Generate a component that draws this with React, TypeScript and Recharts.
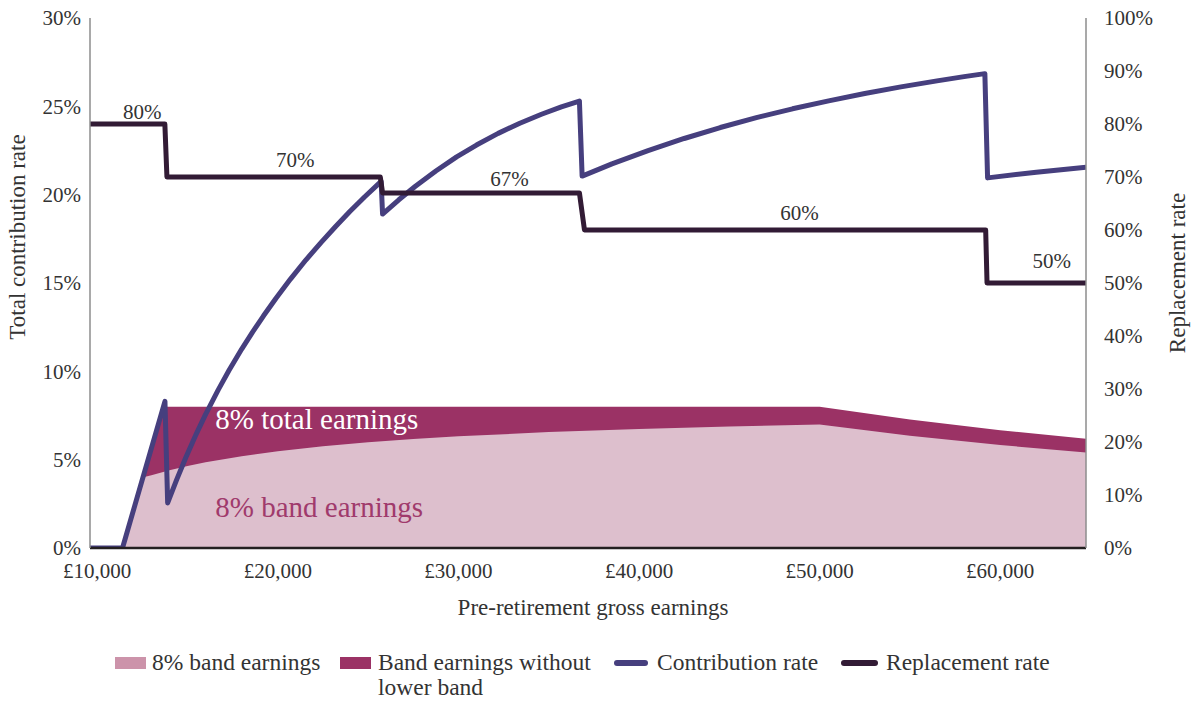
import React from 'react';
import { ComposedChart, Line, Area, XAxis, YAxis, Legend, ReferenceDot } from 'recharts';

// ---- Data ----
// Contribution rate (left axis, %)
const contribEarnings = [
  9600, 11400, 13750, 13900, 14400, 14900, 15500, 16000, 16700, 17300, 18000, 18600, 19200, 19900, 20700, 21550, 22400, 23200, 24000, 24800, 25500, 25720,
  25800, 26700, 27600, 28750, 29900, 31000, 32200, 33400, 34600, 35700, 36700,
  36850, 38500, 40500, 42500, 44500, 46500, 48500, 50500, 52500, 54500, 56500, 58000, 59150,
  59300, 62000, 64750,
];
const contribRate = [
  0, 0, 8.3, 2.55, 3.87, 5.11, 6.49, 7.56, 8.95, 10.06, 11.26, 12.22, 13.13, 14.14, 15.22, 16.3, 17.3, 18.2, 19.06, 19.87, 20.54, 20.75,
  18.9, 19.71, 20.46, 21.34, 22.14, 22.81, 23.47, 24.04, 24.55, 24.97, 25.3,
  21.05, 21.74, 22.49, 23.18, 23.8, 24.36, 24.86, 25.31, 25.73, 26.1, 26.44, 26.68, 26.85,
  20.95, 21.27, 21.55,
];

// Replacement rate (right axis, %)
const replEarnings = [9600, 13745, 13860, 25675, 25800, 36700, 36980, 59195, 59270, 64750];
const replRate = [80, 80, 70, 70, 67, 67, 60, 60, 50, 50];

// 8% band earnings (left axis, %)
const bandEarnings = [11400, 12550, 13000, 14000, 15000, 16000, 18000, 20000, 22500, 25000, 27500, 30000, 35000, 40000, 45000, 50000, 55000, 60000, 64750];
const bandRate = [0, 4.0, 4.12, 4.4, 4.64, 4.85, 5.2, 5.48, 5.76, 5.98, 6.17, 6.32, 6.56, 6.74, 6.88, 6.99, 6.35, 5.83, 5.4];

// 8% total earnings (band earnings without lower band) top edge (left axis, %)
const totalEarnings = [11400, 12550, 13750, 50000, 55000, 60000, 64750];
const totalRate = [0, 4.0, 8.0, 8.0, 7.27, 6.67, 6.18];

// Replacement-rate data labels
const replLabelEarnings = [12500, 20970, 32825, 48890, 62850];
const replLabelValues = [80, 70, 67, 60, 50];

// In-area annotations
const areaLabelTexts = ['8% total earnings', '8% band earnings'];
const areaLabelEarnings = [16540, 16540];
const areaLabelRates = [6.74, 1.77];

// Ticks
const xTicks = [10000, 20000, 30000, 40000, 50000, 60000];
const leftTicks = [0, 5, 10, 15, 20, 25, 30];
const rightTicks = [0, 10, 20, 30, 40, 50, 60, 70, 80, 90, 100];

const legendNames = ['8% band earnings', 'Band earnings without', 'lower band', 'Contribution rate', 'Replacement rate'];

// ---- Styling ----
const FONT = '"Liberation Serif", "Times New Roman", serif';
const TEXT = '#333333';
const C_BAND = '#ddbfcd';
const C_BAND_LEG = '#cc93aa';
const C_TOTAL = '#9b3265';
const C_CONTRIB = '#463f7e';
const C_REPL = '#321b35';

function buildTable() {
  const map = new Map<number, any>();
  const add = (xs: number[], ys: number[], key: string) => {
    xs.forEach((x, i) => {
      const row = map.get(x) ?? { x };
      row[key] = ys[i];
      map.set(x, row);
    });
  };
  add(totalEarnings, totalRate, 'total');
  add(bandEarnings, bandRate, 'band');
  add(contribEarnings, contribRate, 'contrib');
  add(replEarnings, replRate, 'repl');
  return Array.from(map.values()).sort((a, b) => a.x - b.x);
}
const table = buildTable();

const fmtMoney = (v: number) => '£' + v.toLocaleString('en-US');
const fmtPct = (v: number) => `${v}%`;

const labelOffsets = [5, 10, 7, 10, 15];

const legendText: React.CSSProperties = { position: 'absolute', top: 12, lineHeight: '25px', whiteSpace: 'nowrap' };

const renderLegend = () => (
  <div style={{ position: 'relative', width: 1191, height: 64, fontFamily: FONT, fontSize: 23.5, color: TEXT }}>
    <div style={{ position: 'absolute', left: 115, top: 19, width: 31, height: 12, background: C_BAND_LEG }} />
    <div style={{ ...legendText, left: 152 }}>{legendNames[0]}</div>
    <div style={{ position: 'absolute', left: 340, top: 19, width: 31, height: 12, background: C_TOTAL }} />
    <div style={{ ...legendText, left: 378 }}>
      {legendNames[1]}
      <br />
      {legendNames[2]}
    </div>
    <div style={{ position: 'absolute', left: 614, top: 22, width: 34, height: 6, borderRadius: 3, background: C_CONTRIB }} />
    <div style={{ ...legendText, left: 657 }}>{legendNames[3]}</div>
    <div style={{ position: 'absolute', left: 841, top: 22, width: 37, height: 6, borderRadius: 3, background: C_REPL }} />
    <div style={{ ...legendText, left: 886 }}>{legendNames[4]}</div>
  </div>
);

export default function App() {
  return (
    <div style={{ position: 'absolute', left: 0, top: 0, width: 1191, height: 702, background: '#ffffff' }}>
      <ComposedChart width={1191} height={702} data={table} margin={{ top: 18, right: 0, bottom: 0, left: 0 }}>
        <XAxis
          dataKey="x"
          type="number"
          domain={[9600, 64750]}
          allowDataOverflow
          ticks={xTicks}
          tickFormatter={fmtMoney}
          height={90}
          axisLine={{ stroke: '#231f20', strokeWidth: 2.5 }}
          tickLine={false}
          tickSize={0}
          tickMargin={15}
          tick={{ fill: TEXT, fontSize: 21, fontFamily: FONT }}
          label={() => (
            <text x={593} y={607} textAnchor="middle" dominantBaseline="central" fill={TEXT} fontSize={23} fontFamily={FONT}>
              Pre-retirement gross earnings
            </text>
          )}
        />
        <YAxis
          yAxisId="left"
          width={90}
          domain={[0, 30]}
          allowDataOverflow
          ticks={leftTicks}
          tickFormatter={fmtPct}
          axisLine={{ stroke: '#8c8c8c', strokeWidth: 1.5 }}
          tickLine={false}
          tickSize={0}
          tickMargin={9}
          tick={{ fill: TEXT, fontSize: 21, fontFamily: FONT }}
          label={() => (
            <text x={17} y={237} transform="rotate(-90 17 237)" textAnchor="middle" dominantBaseline="central" fill={TEXT} fontSize={23} fontFamily={FONT}>
              Total contribution rate
            </text>
          )}
        />
        <YAxis
          yAxisId="right"
          orientation="right"
          width={105}
          domain={[0, 100]}
          allowDataOverflow
          ticks={rightTicks}
          tickFormatter={fmtPct}
          axisLine={{ stroke: '#8c8c8c', strokeWidth: 1.5 }}
          tickLine={false}
          tickSize={0}
          tickMargin={18}
          tick={{ fill: TEXT, fontSize: 21, fontFamily: FONT, textAnchor: 'start' }}
          label={() => (
            <text x={1177} y={273} transform="rotate(-90 1177 273)" textAnchor="middle" dominantBaseline="central" fill={TEXT} fontSize={23} fontFamily={FONT}>
              Replacement rate
            </text>
          )}
        />
        <Legend verticalAlign="bottom" align="left" height={64} wrapperStyle={{ left: 0, width: 1191 }} content={renderLegend} />
        <Area yAxisId="left" type="linear" dataKey="total" name="Band earnings without lower band" stroke="none" fill={C_TOTAL} fillOpacity={1} connectNulls isAnimationActive={false} dot={false} activeDot={false} />
        <Area yAxisId="left" type="linear" dataKey="band" name="8% band earnings" stroke="none" fill={C_BAND} fillOpacity={1} connectNulls isAnimationActive={false} dot={false} activeDot={false} />
        <Line yAxisId="left" type="linear" dataKey="contrib" name="Contribution rate" stroke={C_CONTRIB} strokeWidth={5} strokeLinejoin="round" connectNulls dot={false} activeDot={false} isAnimationActive={false} />
        <Line yAxisId="right" type="linear" dataKey="repl" name="Replacement rate" stroke={C_REPL} strokeWidth={5} strokeLinejoin="round" connectNulls dot={false} activeDot={false} isAnimationActive={false} />
        {replLabelEarnings.map((x, i) => (
          <ReferenceDot
            key={`rl${i}`}
            yAxisId="right"
            x={x}
            y={replLabelValues[i]}
            r={0}
            ifOverflow="visible"
            shape={(p: any) => (
              <text x={p.cx} y={p.cy - labelOffsets[i]} textAnchor="middle" fill={TEXT} fontSize={21} fontFamily={FONT}>
                {`${replLabelValues[i]}%`}
              </text>
            )}
          />
        ))}
        {areaLabelTexts.map((t, i) => (
          <ReferenceDot
            key={`al${i}`}
            yAxisId="left"
            x={areaLabelEarnings[i]}
            y={areaLabelRates[i]}
            r={0}
            ifOverflow="visible"
            shape={(p: any) => (
              <text x={p.cx} y={p.cy} textAnchor="start" fill={i === 0 ? '#ffffff' : '#a03a6c'} fontSize={29} fontFamily={FONT}>
                {t}
              </text>
            )}
          />
        ))}
      </ComposedChart>
    </div>
  );
}
